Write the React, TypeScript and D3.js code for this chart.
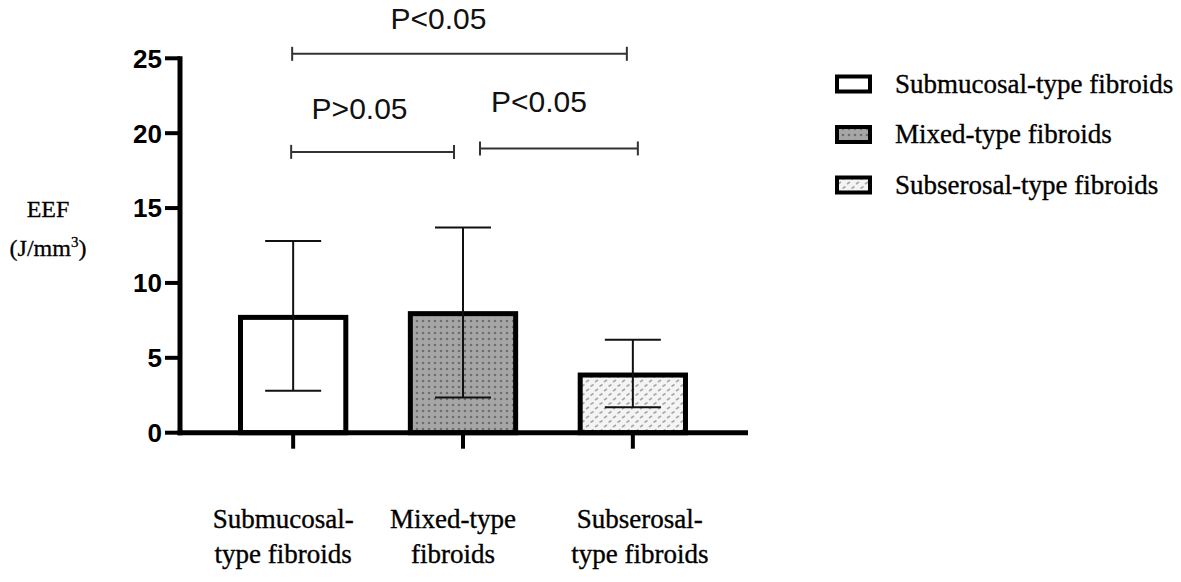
import * as d3 from "d3";

const categories = ["Submucosal-type fibroids", "Mixed-type fibroids", "Subserosal-type fibroids"];
const tickLines = [
    ["Submucosal-", "type fibroids"],
    ["Mixed-type", "fibroids"],
    ["Subserosal-", "type fibroids"],
];
const means = [7.7, 7.95, 3.85];
const errLow = [2.8, 2.35, 1.7];
const errHigh = [12.8, 13.7, 6.2];
const yTicks = [0, 5, 10, 15, 20, 25];

// significance brackets: from / to category, height in data units, label
const brackets = [
    { from: 0, to: 2, y: 25.3, label: "P<0.05", dx: [-1, -6], labelDx: -21, labelDy: -25 },
    { from: 0, to: 1, y: 18.75, label: "P>0.05", dx: [-2, -9], labelDx: -13, labelDy: -33 },
    { from: 1, to: 2, y: 18.98, label: "P<0.05", dx: [17, 5], labelDx: -20, labelDy: -36 },
];

const fills = ["#ffffff", "url(#dots)", "url(#specks)"];
// the category labels sit a little off the bar centres in the original
const labelShift = [-10, -10, 7];

export default function App() {
    const width = 1181;
    const height = 582;
    const axisX = 180;
    const axisEnd = 748;

    const y = d3.scaleLinear([0, 25], [432.7, 58.3]);
    const x = d3
        .scaleBand<string>()
        .domain(categories)
        .range([240.5, 685.5])
        .paddingInner(0.38)
        .paddingOuter(0);
    const bw = x.bandwidth();
    const cx = (i: number) => (x(categories[i]) ?? 0) + bw / 2;

    const serif = "'Liberation Serif', 'Times New Roman', serif";
    const sans = "'Liberation Sans', Arial, sans-serif";

    return (
        <svg width={width} height={height} style={{ position: "absolute", left: 0, top: 0, background: "#fff" }}>
            <defs>
                <pattern id="dots" width="6" height="6" patternUnits="userSpaceOnUse">
                    <rect width="6" height="6" fill="#a6a6a6" />
                    <circle cx="3" cy="3" r="1.3" fill="#6e6e6e" />
                </pattern>
                <pattern id="specks" width="9" height="9" patternUnits="userSpaceOnUse">
                    <rect width="9" height="9" fill="#f4f4f4" />
                    <line x1="1" y1="4" x2="4" y2="2" stroke="#a8a8a8" strokeWidth="1.6" />
                    <line x1="5.5" y1="8.5" x2="8.5" y2="6.5" stroke="#a8a8a8" strokeWidth="1.6" />
                </pattern>
            </defs>

            {/* bars */}
            {categories.map((c, i) => (
                <rect
                    key={c}
                    x={x(c)}
                    y={y(means[i])}
                    width={bw}
                    height={y(0) - y(means[i])}
                    fill={fills[i]}
                    stroke="#000"
                    strokeWidth={5}
                />
            ))}

            {/* error bars */}
            <g stroke="#111" strokeWidth={2}>
                {categories.map((c, i) => (
                    <g key={c}>
                        <line x1={cx(i)} x2={cx(i)} y1={y(errHigh[i])} y2={y(errLow[i])} />
                        <line x1={cx(i) - 28} x2={cx(i) + 28} y1={y(errHigh[i])} y2={y(errHigh[i])} />
                        <line x1={cx(i) - 28} x2={cx(i) + 28} y1={y(errLow[i])} y2={y(errLow[i])} />
                    </g>
                ))}
            </g>

            {/* axes */}
            <g stroke="#000">
                <line x1={axisX} x2={axisX} y1={y(25) - 2} y2={y(0) + 2.5} strokeWidth={5} />
                <line x1={axisX - 2.5} x2={axisEnd} y1={y(0)} y2={y(0)} strokeWidth={5} />
                {yTicks.map((t) => (
                    <line key={t} x1={axisX - 15} x2={axisX} y1={y(t)} y2={y(t)} strokeWidth={4} />
                ))}
                {categories.map((c, i) => (
                    <line key={c} x1={cx(i)} x2={cx(i)} y1={y(0)} y2={y(0) + 16} strokeWidth={4} />
                ))}
            </g>
            <g fontFamily={sans} fontWeight="bold" fontSize={26} textAnchor="end">
                {yTicks.map((t) => (
                    <text key={t} x={axisX - 18} y={y(t)} dy="0.36em">
                        {t}
                    </text>
                ))}
            </g>

            {/* category labels */}
            <g fontFamily={serif} fontSize={27} textAnchor="middle" fill="#000" stroke="#000" strokeWidth={0.35}>
                {categories.map((c, i) =>
                    tickLines[i].map((ln, j) => (
                        <text key={c + j} x={cx(i) + labelShift[i]} y={528 + j * 35}>
                            {ln}
                        </text>
                    ))
                )}
            </g>

            {/* y label */}
            <g fontFamily={serif} fontSize={24} textAnchor="middle" fill="#000" stroke="#000" strokeWidth={0.3}>
                <text x={48} y={217}>EEF</text>
                <text x={48} y={256}>
                    (J/mm<tspan fontSize={15} dy={-9}>3</tspan>
                    <tspan dy={9}>)</tspan>
                </text>
            </g>

            {/* significance brackets */}
            <g>
                {brackets.map((b, k) => {
                    const x0 = cx(b.from) + b.dx[0];
                    const x1 = cx(b.to) + b.dx[1];
                    const yy = y(b.y);
                    return (
                        <g key={k}>
                            <g stroke="#333" strokeWidth={2}>
                                <line x1={x0} x2={x1} y1={yy} y2={yy} />
                                <line x1={x0} x2={x0} y1={yy - 7} y2={yy + 7} />
                                <line x1={x1} x2={x1} y1={yy - 7} y2={yy + 7} />
                            </g>
                            <text
                                x={(x0 + x1) / 2 + b.labelDx}
                                y={yy + b.labelDy}
                                textAnchor="middle"
                                fontFamily={sans}
                                fontSize={30}
                                fill="#111"
                            >
                                {b.label}
                            </text>
                        </g>
                    );
                })}
            </g>

            {/* legend */}
            <g>
                {categories.map((c, i) => {
                    const ly = 84 + i * 50.5;
                    return (
                        <g key={c}>
                            <rect
                                x={837}
                                y={ly - 7.5}
                                width={33}
                                height={15}
                                fill={fills[i]}
                                stroke="#000"
                                strokeWidth={4}
                            />
                            <text
                                x={895}
                                y={ly}
                                dy="0.33em"
                                fontFamily={serif}
                                fontSize={27}
                                fill="#000"
                                stroke="#000"
                                strokeWidth={0.35}
                            >
                                {c}
                            </text>
                        </g>
                    );
                })}
            </g>
        </svg>
    );
}
